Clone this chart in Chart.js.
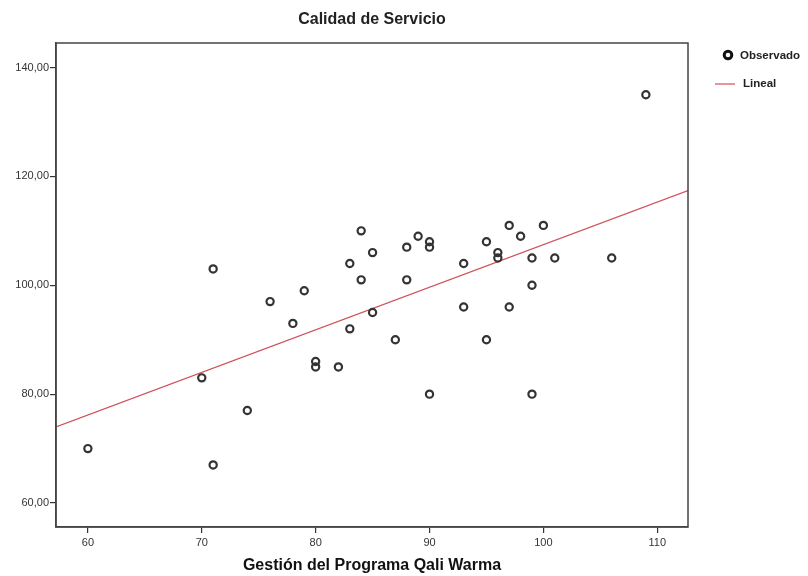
<!DOCTYPE html>
<html>
<head>
<meta charset="utf-8">
<script src="https://cdn.jsdelivr.net/npm/chart.js@4.4.1/dist/chart.umd.min.js"></script>
<style>
  html, body { margin: 0; padding: 0; background: #fff; }
  #wrap { width: 808px; height: 576px; }
</style>
</head>
<body>
<div id="wrap"><canvas id="chart" width="808" height="576"></canvas></div>
<script>
// observed values (Gestión del Programa Qali Warma vs Calidad de Servicio)
const gestion = [60, 70, 71, 71, 74, 76, 78, 79, 80, 80, 82, 83, 83, 84, 84, 85, 85, 87, 88, 88,
                 89, 90, 90, 90, 93, 93, 95, 95, 96, 96, 97, 97, 98, 99, 99, 99, 100, 101, 106, 109];
const calidad = [70, 83, 103, 67, 77, 97, 93, 99, 86, 85, 85, 104, 92, 110, 101, 106, 95, 90, 107, 101,
                 109, 108, 107, 80, 104, 96, 108, 90, 106, 105, 111, 96, 109, 105, 100, 80, 111, 105, 105, 135];

// fitted line at the frame edges
const fitX = [57.2, 112.7];
const fitY = [74.0, 117.4];

const xTicks = [60, 70, 80, 90, 100, 110];
const yTicks = [60, 80, 100, 120, 140];

const FONT = "'Liberation Sans', Arial, sans-serif";
const INK = "#333";
const LINE_RED = "#d2505c";

const points = gestion.map((x, i) => ({ x, y: calidad[i] }));
const fitPoints = fitX.map((x, i) => ({ x, y: fitY[i] }));

/* =========================
   FRAME, TITLE, LEGEND
========================= */
const spssDecor = {
  id: "spssDecor",
  afterDraw(chart) {
    const { ctx, chartArea: a } = chart;
    ctx.save();
    ctx.strokeStyle = "#444";
    ctx.lineWidth = 1.5;
    ctx.strokeRect(a.left, a.top, a.right - a.left, a.bottom - a.top);

    // title
    ctx.fillStyle = "#222";
    ctx.font = "bold 16px " + FONT;
    ctx.textAlign = "center";
    ctx.textBaseline = "middle";
    ctx.fillText("Calidad de Servicio", (a.left + a.right) / 2, 20);

    // legend
    ctx.textAlign = "left";
    ctx.font = "bold 11.5px " + FONT;
    ctx.beginPath();
    ctx.arc(728, 55, 3.8, 0, Math.PI * 2);
    ctx.lineWidth = 3;
    ctx.strokeStyle = "#111";
    ctx.stroke();
    ctx.fillText("Observado", 740, 56);

    ctx.beginPath();
    ctx.moveTo(715, 84);
    ctx.lineTo(735, 84);
    ctx.lineWidth = 1.2;
    ctx.strokeStyle = LINE_RED;
    ctx.stroke();
    ctx.fillText("Lineal", 743, 84);
    ctx.restore();
  }
};

const ctx = document.getElementById("chart").getContext("2d");

new Chart(ctx, {
  type: "scatter",
  data: {
    datasets: [
      {
        label: "Observado",
        data: points,
        pointRadius: 3.6,
        pointBorderWidth: 2.2,
        borderColor: "#333",
        backgroundColor: "rgba(0,0,0,0)",
        order: 1
      },
      {
        label: "Lineal",
        type: "line",
        data: fitPoints,
        borderColor: LINE_RED,
        borderWidth: 1.2,
        pointRadius: 0,
        fill: false,
        order: 2
      }
    ]
  },
  plugins: [spssDecor],
  options: {
    responsive: false,
    animation: false,
    layout: { padding: { top: 43, right: 120, left: 0, bottom: 0 } },
    plugins: {
      legend: { display: false },
      title: { display: false },
      tooltip: { enabled: false }
    },
    scales: {
      x: {
        type: "linear",
        min: fitX[0],
        max: fitX[1],
        afterBuildTicks: s => { s.ticks = xTicks.map(v => ({ value: v })); },
        afterFit: s => { s.height = 49; },
        grid: { drawOnChartArea: false, drawTicks: true, tickLength: 6, color: INK, lineWidth: 1.2 },
        border: { display: true, color: "#444", width: 1.5 },
        ticks: { color: INK, font: { family: FONT, size: 11 }, padding: 3 },
        title: {
          display: true,
          text: "Gestión del Programa Qali Warma",
          color: "#111",
          font: { family: FONT, size: 16, weight: "bold" },
          padding: { top: 4, bottom: 1 }
        }
      },
      y: {
        type: "linear",
        min: 55.6,
        max: 144.5,
        afterBuildTicks: s => { s.ticks = yTicks.map(v => ({ value: v })); },
        afterFit: s => { s.width = 56; },
        grid: { drawOnChartArea: false, drawTicks: true, tickLength: 6, color: INK, lineWidth: 1.2 },
        border: { display: true, color: "#444", width: 1.5 },
        ticks: {
          color: INK,
          font: { family: FONT, size: 11 },
          padding: 1,
          callback: v => v.toFixed(2).replace(".", ",")
        }
      }
    }
  }
});
</script>
</body>
</html>
